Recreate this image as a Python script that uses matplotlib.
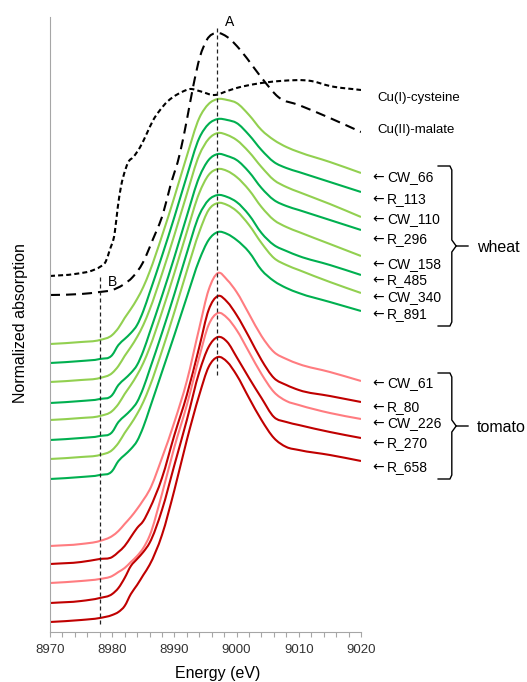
import numpy as np
import matplotlib
matplotlib.use("Agg")
import matplotlib.pyplot as plt
from matplotlib.path import Path
from matplotlib.patches import PathPatch
from matplotlib.ticker import MultipleLocator

plt.rcParams['font.family'] = ['Liberation Sans', 'DejaVu Sans']

# energy grid (eV) shared by the sample spectra
energy = [8970, 8975, 8978, 8980, 8981, 8982, 8983, 8984, 8985, 8986, 8988, 8990,
          8992, 8994, 8995.5, 8997, 8998.5, 9000, 9002, 9004, 9006, 9008, 9010,
          9015, 9020]

# wheat spectra (normalized, stacked with offsets)
cw_66 = [2.88, 2.90, 2.92, 2.97, 3.04, 3.14, 3.23, 3.33, 3.45, 3.60, 3.96, 4.35,
         4.76, 5.14, 5.28, 5.33, 5.32, 5.29, 5.17, 5.02, 4.92, 4.85, 4.80, 4.70, 4.59]
r_113 = [2.69, 2.71, 2.73, 2.77, 2.87, 2.93, 2.99, 3.07, 3.21, 3.39, 3.76, 4.15,
         4.56, 4.94, 5.08, 5.13, 5.12, 5.09, 4.97, 4.82, 4.70, 4.64, 4.60, 4.50, 4.40]
cw_110 = [2.50, 2.52, 2.54, 2.59, 2.66, 2.76, 2.85, 2.95, 3.07, 3.22, 3.58, 3.97,
          4.38, 4.77, 4.93, 4.99, 4.97, 4.92, 4.80, 4.65, 4.52, 4.45, 4.40, 4.28, 4.15]
r_296 = [2.29, 2.31, 2.33, 2.37, 2.47, 2.53, 2.59, 2.67, 2.81, 2.99, 3.36, 3.75,
         4.16, 4.55, 4.72, 4.78, 4.76, 4.72, 4.60, 4.44, 4.32, 4.26, 4.22, 4.12, 4.02]
cw_158 = [2.12, 2.14, 2.16, 2.21, 2.28, 2.38, 2.47, 2.57, 2.69, 2.84, 3.20, 3.59,
          4.00, 4.39, 4.57, 4.63, 4.61, 4.55, 4.42, 4.25, 4.12, 4.05, 4.00, 3.88, 3.76]
r_485 = [1.92, 1.94, 1.96, 2.00, 2.10, 2.16, 2.22, 2.30, 2.44, 2.62, 2.99, 3.38,
         3.79, 4.17, 4.32, 4.37, 4.35, 4.30, 4.17, 3.99, 3.87, 3.81, 3.76, 3.67, 3.57]
cw_340 = [1.73, 1.75, 1.77, 1.82, 1.89, 1.99, 2.08, 2.18, 2.30, 2.45, 2.81, 3.20,
          3.61, 4.00, 4.22, 4.29, 4.27, 4.21, 4.07, 3.89, 3.74, 3.67, 3.62, 3.50, 3.39]
r_891 = [1.53, 1.55, 1.57, 1.61, 1.71, 1.77, 1.83, 1.91, 2.05, 2.23, 2.60, 2.97,
         3.35, 3.72, 3.92, 4.00, 3.98, 3.92, 3.80, 3.62, 3.51, 3.44, 3.39, 3.30, 3.21]

# tomato spectra
cw_61 = [0.86, 0.88, 0.91, 0.96, 1.01, 1.08, 1.15, 1.23, 1.32, 1.42, 1.74, 2.10,
         2.51, 3.04, 3.42, 3.59, 3.52, 3.40, 3.18, 2.96, 2.80, 2.73, 2.68, 2.60, 2.51]
r_80 = [0.68, 0.70, 0.73, 0.75, 0.80, 0.86, 0.95, 1.04, 1.11, 1.23, 1.54, 1.97,
        2.37, 2.85, 3.22, 3.36, 3.30, 3.17, 2.95, 2.72, 2.54, 2.47, 2.42, 2.36, 2.30]
cw_226 = [0.49, 0.51, 0.53, 0.56, 0.60, 0.64, 0.70, 0.76, 0.84, 0.96, 1.38, 1.85,
          2.27, 2.75, 3.07, 3.19, 3.14, 3.02, 2.80, 2.58, 2.40, 2.31, 2.27, 2.19, 2.13]
r_270 = [0.29, 0.31, 0.34, 0.38, 0.44, 0.54, 0.66, 0.73, 0.80, 0.89, 1.22, 1.67,
         2.12, 2.60, 2.85, 2.95, 2.90, 2.75, 2.54, 2.34, 2.15, 2.10, 2.07, 2.00, 1.94]
r_658 = [0.10, 0.12, 0.14, 0.17, 0.20, 0.26, 0.38, 0.47, 0.57, 0.67, 0.97, 1.42,
         1.92, 2.37, 2.65, 2.75, 2.70, 2.57, 2.34, 2.12, 1.94, 1.85, 1.82, 1.77, 1.71]

# reference compounds
energy_cys = [8970, 8974, 8977, 8978, 8979, 8979.6, 8980.4, 8980.9, 8981.4, 8982.1,
              8982.6, 8983.4, 8984.5, 8985.6, 8986.6, 8987.7, 8988.8, 8989.8,
              8991.2, 8992.5, 8994, 8996.5, 8998.5, 9000, 9003, 9007, 9012, 9015, 9020]
cu_cysteine = [3.56, 3.58, 3.62, 3.65, 3.71, 3.82, 3.99, 4.25, 4.45, 4.62, 4.70,
               4.75, 4.85, 4.99, 5.12, 5.22, 5.30, 5.35, 5.40, 5.43, 5.41, 5.37,
               5.41, 5.44, 5.48, 5.51, 5.51, 5.46, 5.42]
energy_mal = [8970, 8975, 8978, 8980, 8981.7, 8983.3, 8984.9, 8986.5, 8988.2,
              8989.3, 8990.9, 8992, 8993, 8994.1, 8995.2, 8996.9, 8998.5, 9000.6,
              9002.7, 9004.3, 9006.7, 9010, 9015, 9020]
cu_malate = [3.37, 3.38, 3.40, 3.42, 3.47, 3.55, 3.69, 3.92, 4.19, 4.45, 4.79,
             5.12, 5.45, 5.75, 5.92, 5.99, 5.95, 5.82, 5.65, 5.52, 5.35, 5.27,
             5.14, 5.00]

wheat_names = ['CW_66', 'R_113', 'CW_110', 'R_296', 'CW_158', 'R_485', 'CW_340', 'R_891']
wheat_data = [cw_66, r_113, cw_110, r_296, cw_158, r_485, cw_340, r_891]
tomato_names = ['CW_61', 'R_80', 'CW_226', 'R_270', 'R_658']
tomato_data = [cw_61, r_80, cw_226, r_270, r_658]

edge_a = 8996.9
edge_b = 8978.0

# label heights at the right-hand side
wheat_label_y = [4.56, 4.34, 4.14, 3.94, 3.69, 3.53, 3.36, 3.19]
tomato_label_y = [2.50, 2.26, 2.10, 1.90, 1.66]

colors = {'CW_w': '#92D050', 'R_w': '#00B050', 'CW_t': '#FF7C80', 'R_t': '#C00000'}


def smooth_line(ax, x, y, **kw):
    # smoothed line through the points (cubic Bezier segments, like a spreadsheet "smoothed line")
    x = np.asarray(x, float)
    y = np.asarray(y, float)
    m = np.gradient(y, x)
    verts = [(x[0], y[0])]
    codes = [Path.MOVETO]
    for i in range(len(x) - 1):
        h = x[i + 1] - x[i]
        verts += [(x[i] + h / 3, y[i] + m[i] * h / 3),
                  (x[i + 1] - h / 3, y[i + 1] - m[i + 1] * h / 3),
                  (x[i + 1], y[i + 1])]
        codes += [Path.CURVE4] * 3
    patch = PathPatch(Path(verts, codes), fill=False, capstyle='butt', joinstyle='round', **kw)
    ax.add_patch(patch)
    return patch


fig = plt.figure(figsize=(5.27, 6.82), dpi=100)
ax = fig.add_axes([50 / 527, 50 / 682, 311 / 527, 615 / 682])

smooth_line(ax, energy_cys, cu_cysteine, edgecolor='black', lw=1.5, linestyle=(0, (2.4, 1.5)))
smooth_line(ax, energy_mal, cu_malate, edgecolor='black', lw=1.5, linestyle=(0, (4.8, 2.9)))

for name, y in zip(wheat_names, wheat_data):
    c = colors['CW_w'] if name.startswith('CW') else colors['R_w']
    smooth_line(ax, energy, y, edgecolor=c, lw=1.5)
for name, y in zip(tomato_names, tomato_data):
    c = colors['CW_t'] if name.startswith('CW') else colors['R_t']
    smooth_line(ax, energy, y, edgecolor=c, lw=1.5)

# edge markers
ax.plot([edge_a, edge_a], [2.57, 6.05], color='#222222', lw=0.9, linestyle=(0, (3.2, 2.4)))
ax.plot([edge_b, edge_b], [0.08, 3.55], color='#222222', lw=0.9, linestyle=(0, (3.2, 2.4)))
ax.text(edge_a + 2.0, 6.10, 'A', fontsize=10, ha='center', va='center')
ax.text(edge_b + 2.0, 3.50, 'B', fontsize=10, ha='center', va='center')

ax.set_xlim(8970, 9020)
ax.set_ylim(0, 6.15)
ax.xaxis.set_major_locator(MultipleLocator(10))
ax.xaxis.set_minor_locator(MultipleLocator(2))
ax.set_yticks([])
for s in ['top', 'right']:
    ax.spines[s].set_visible(False)
for s in ['left', 'bottom']:
    ax.spines[s].set_color('#A6A6A6')
    ax.spines[s].set_linewidth(0.8)
ax.tick_params(axis='x', which='both', direction='out', length=3.5, width=0.8,
               color='#A6A6A6', labelsize=9.5, pad=5, labelcolor='#333333')

# curve labels
ax.text(9022.7, 5.35, 'Cu(I)-cysteine', fontsize=9.5, va='center_baseline', clip_on=False)
ax.text(9022.7, 5.04, 'Cu(II)-malate', fontsize=9.5, va='center_baseline', clip_on=False)
for name, ly in zip(wheat_names + tomato_names, wheat_label_y + tomato_label_y):
    ax.text(9021.8, ly, '\u2190', family='DejaVu Sans', fontsize=10,
            va='center_baseline', clip_on=False)
    ax.text(9024.2, ly, name, fontsize=10, va='center_baseline', clip_on=False)


def brace(top, bottom, text):
    xv, xh, xt = 9034.6, 9032.4, 9037.2
    mid = (top + bottom) / 2
    ax.plot([xh, xv - 0.3, xv, xv, xv + 0.7, xt], [top, top, top - 0.04, mid + 0.06, mid, mid],
            color='black', lw=1.0, clip_on=False)
    ax.plot([xv + 0.7, xv, xv, xv - 0.3, xh], [mid, mid - 0.06, bottom + 0.04, bottom, bottom],
            color='black', lw=1.0, clip_on=False)
    ax.text(xt + 1.4, mid, text, fontsize=11.5, va='center_baseline', clip_on=False)


brace(4.66, 3.06, 'wheat')
brace(2.59, 1.53, 'tomato')

fig.text(21 / 527, 1 - 323 / 682, 'Normalized absorption', rotation=90,
         ha='center', va='center', fontsize=11.5)
fig.text(218 / 527, 4 / 682, 'Energy (eV)', ha='center', va='baseline', fontsize=11.5)

fig.savefig('out.png', dpi=100)
